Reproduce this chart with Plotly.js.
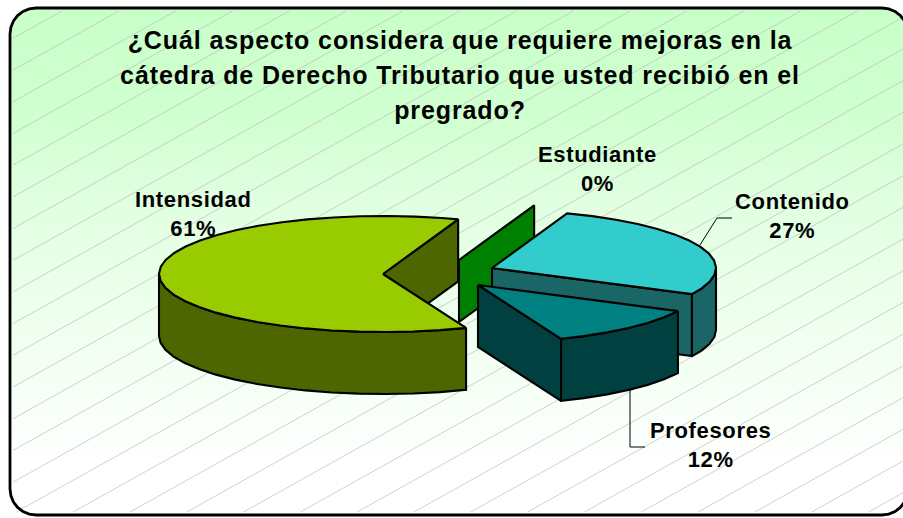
<!DOCTYPE html>
<html>
<head>
<meta charset="utf-8">
<script src="https://cdn.plot.ly/plotly-3.0.1.min.js"></script>
<style>html,body{margin:0;padding:0;background:#fff}#chart{width:903px;height:518px}</style>
</head>
<body>
<div id="chart"></div>
<script>
// ---- data
const titleLines = ['¿Cuál aspecto considera que requiere mejoras en la',
                    'cátedra de Derecho Tributario que usted recibió en el',
                    'pregrado?'];
const categories = ['Estudiante', 'Contenido', 'Profesores', 'Intensidad']; // clockwise
const percents   = [0, 27, 11.51, 61.49];
const topColors  = ['#008000', '#33cccc', '#008080', '#99cc00'];
const sideColors = ['#008000', '#1a6666', '#004040', '#4d6600'];

// ---- layout constants (pixel-based axes)
const W = 903, H = 518;
const RX = 224, RY = 58, DEPTH = 62, START = 70.4, STEP = 7;
const centers = [[459, 260], [492, 268], [478, 285], [383, 274]];
const labelPos = [[597, 169], [792, 216], [710, 445], [193, 214]];
const FONT = 'Liberation Sans, Arial, sans-serif';
const titleStyle = 'font-size:25px;letter-spacing:0.9px;font-weight:bold;';
const labelStyle = 'font-size:22px;letter-spacing:0.65px;font-weight:bold;';

const rad = d => d * Math.PI / 180;
const traces = [];
function poly(pts, fill, lw, extra) {
  traces.push(Object.assign({
    type: 'scatter', mode: 'lines', x: pts.map(p => p[0]), y: pts.map(p => p[1]),
    fill: 'toself', fillcolor: fill, line: {color: '#000', width: lw},
    hoverinfo: 'skip', showlegend: false
  }, extra || {}));
}

// frame
const fx0 = 10, fx1 = 908, fy0 = 8, fy1 = 515, fr = 26;
const frame = [];
[[fx1 - fr, fy0 + fr, -90, 0], [fx1 - fr, fy1 - fr, 0, 90], [fx0 + fr, fy1 - fr, 90, 180], [fx0 + fr, fy0 + fr, 180, 270]]
  .forEach(c => { for (let a = c[2]; a <= c[3]; a += 15) frame.push([c[0] + fr * Math.cos(rad(a)), c[1] + fr * Math.sin(rad(a))]); });
frame.push(frame[0]);
poly(frame, '#c8ffc8', 0, {
  line: {width: 0, color: 'rgba(0,0,0,0)'},
  fillgradient: {type: 'vertical', start: 8, stop: 470, colorscale: [
    [0, '#c8ffc8'], [0.24, '#d0ffd0'], [0.41, '#e0ffe0'], [0.63, '#ecffec'], [0.87, '#f8fff8'], [1, '#ffffff']]}
});

// hatch
const hx = [], hy = [];
const SL = 0.558;
for (let c = 45.6; c < 1040; c += 31.7) {
  let x0 = 13, y0 = c - SL * x0;
  if (y0 > 512) { y0 = 512; x0 = (c - y0) / SL; }
  let x1 = (c - 11) / SL, y1 = 11;
  if (x1 > W) { x1 = W; y1 = c - SL * x1; }
  if (x0 < x1) { hx.push(x0, x1, null); hy.push(y0, y1, null); }
}
traces.push({type: 'scatter', mode: 'lines', x: hx, y: hy, line: {color: '#bbbbbb', width: 0.7},
             hoverinfo: 'skip', showlegend: false});

// frame outline on top of the hatch
traces.push({type: 'scatter', mode: 'lines', x: frame.map(p => p[0]), y: frame.map(p => p[1]),
             line: {color: '#000', width: 2.8}, hoverinfo: 'skip', showlegend: false});

// 3D pie slices, built from the percentages
let ang = START;
percents.forEach((v, i) => {
  const [cx, cy] = centers[i];
  const a0 = ang, a1 = ang - v * 3.6;
  ang = a1;
  const pt = (t, dz) => [cx + RX * Math.cos(rad(t)), cy - RY * Math.sin(rad(t)) + (dz || 0)];
  const e = pt(a1);
  poly([[cx, cy], e, [e[0], e[1] + DEPTH], [cx, cy + DEPTH], [cx, cy]], sideColors[i], 2.1);
  if (v === 0) return;
  const hi = Math.min(a0, 0), lo = Math.max(a1, -180);
  if (hi > lo) {
    const up = [], dn = [];
    for (let t = hi; t > lo; t -= STEP) { up.push(pt(t)); dn.push(pt(t, DEPTH)); }
    up.push(pt(lo)); dn.push(pt(lo, DEPTH));
    poly(up.concat(dn.reverse(), [up[0]]), sideColors[i], 2.1);
  }
  const top = [[cx, cy]];
  for (let t = a0; t > a1; t -= STEP) top.push(pt(t));
  top.push(pt(a1), [cx, cy]);
  poly(top, topColors[i], 2.1);
});

const annotations = categories.map((c, i) => ({
  x: labelPos[i][0], y: labelPos[i][1], xref: 'x', yref: 'y', showarrow: false,
  xanchor: 'center', yanchor: 'middle', align: 'center',
  font: {family: FONT, size: 22, color: '#000'},
  text: `<span style="${labelStyle}">${c}</span><br><span style="${labelStyle}">${Math.round(percents[i])}%</span>`
}));

const leader = (p) => ({type: 'path', path: p, line: {color: '#000', width: 1}, xref: 'x', yref: 'y'});

Plotly.newPlot('chart', traces, {
  width: W, height: H, margin: {l: 0, r: 0, t: 0, b: 0},
  paper_bgcolor: '#fff', plot_bgcolor: 'rgba(0,0,0,0)', showlegend: false,
  xaxis: {range: [0, W], visible: false, fixedrange: true},
  yaxis: {range: [H, 0], visible: false, fixedrange: true},
  title: {
    text: titleLines.map(l => `<span style="${titleStyle}">${l}</span>`).join('<br>'),
    font: {family: FONT, size: 27, color: '#000'},
    x: 460 / W, xanchor: 'center', xref: 'paper', yref: 'paper', y: 1 - 49 / H, yanchor: 'top', automargin: false
  },
  shapes: [leader('M700,245 L717,218 L732,218'), leader('M630,388 L630,447 L645,447')],
  annotations
}, {displayModeBar: false, staticPlot: true});
</script>
</body>
</html>
